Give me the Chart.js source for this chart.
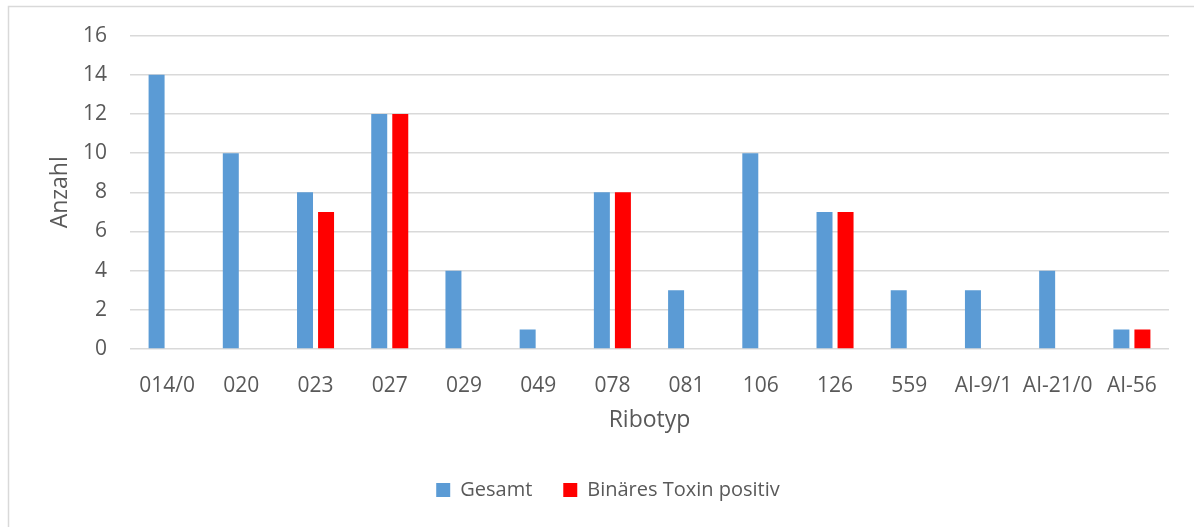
<!DOCTYPE html>
<html>
<head>
<meta charset="utf-8">
<script src="https://cdn.jsdelivr.net/npm/chart.js@4/dist/chart.umd.min.js"></script>
<style>
  html, body { margin: 0; padding: 0; background: #ffffff; }
  #wrap { width: 1194px; height: 527px; position: relative; }
</style>
</head>
<body>
<div id="wrap"><canvas id="c"></canvas></div>
<script>
// Ribotypen und Anzahl der Isolate
const ribotypes = ['014/0', '020', '023', '027', '029', '049', '078', '081', '106', '126', '559', 'AI-9/1', 'AI-21/0', 'AI-56'];
const gesamt = [14, 10, 8, 12, 4, 1, 8, 3, 10, 7, 3, 3, 4, 1];
const binaerPositiv = [0, 0, 7, 12, 0, 0, 8, 0, 0, 7, 0, 0, 0, 1];
const yTicks = [0, 2, 4, 6, 8, 10, 12, 14, 16];

const textColor = '#595959';
const gridColor = '#d9d9d9';
const fontFamily = '"Open Sans", "Noto Sans", sans-serif';

// Rahmen oben und links um das Diagramm
const frame = {
  id: 'frame',
  beforeDraw(chart) {
    const ctx = chart.ctx;
    ctx.save();
    ctx.fillStyle = '#ffffff';
    ctx.fillRect(0, 0, chart.width, chart.height);
    ctx.strokeStyle = gridColor;
    ctx.lineWidth = 1.5;
    ctx.beginPath();
    ctx.moveTo(8.5, chart.height);
    ctx.lineTo(8.5, 6.5);
    ctx.lineTo(chart.width, 6.5);
    ctx.stroke();
    ctx.restore();
  }
};

new Chart(document.getElementById('c'), {
  type: 'bar',
  data: {
    labels: ribotypes,
    datasets: [
      { label: 'Gesamt', data: gesamt, backgroundColor: '#5b9bd5', borderWidth: 0 },
      { label: 'Binäres Toxin positiv', data: binaerPositiv, backgroundColor: '#ff0000', borderWidth: 0 }
    ]
  },
  options: {
    responsive: true,
    maintainAspectRatio: false,
    animation: false,
    layout: { padding: { left: 47, right: 25, top: 35, bottom: 17 } },
    datasets: { bar: { categoryPercentage: 0.567, barPercentage: 0.76 } },
    plugins: {
      legend: {
        position: 'bottom',
        labels: {
          boxWidth: 14, boxHeight: 14, padding: 31,
          color: textColor,
          font: { family: fontFamily, size: 20 }
        }
      },
      tooltip: { enabled: false }
    },
    scales: {
      x: {
        grid: { display: false },
        border: { display: false },
        ticks: { color: textColor, font: { family: fontFamily, size: 21 }, padding: 16, maxRotation: 0, autoSkip: false },
        title: { display: true, text: 'Ribotyp', color: textColor, font: { family: fontFamily, size: 23 }, padding: { top: 0, bottom: 15 } },
        afterFit(scale) { scale.height = 100; }
      },
      y: {
        min: 0, max: 16,
        afterBuildTicks(scale) { scale.ticks = yTicks.map(v => ({ value: v })); },
        grid: { color: gridColor, lineWidth: 1.5, drawTicks: false },
        border: { display: false },
        ticks: { color: textColor, font: { family: fontFamily, size: 21 }, padding: 23 },
        title: { display: true, text: 'Anzahl', color: textColor, font: { family: fontFamily, size: 23 }, padding: { top: 0, bottom: 0 } },
        afterFit(scale) { scale.width = 83; }
      }
    }
  },
  plugins: [frame]
});
</script>
</body>
</html>
